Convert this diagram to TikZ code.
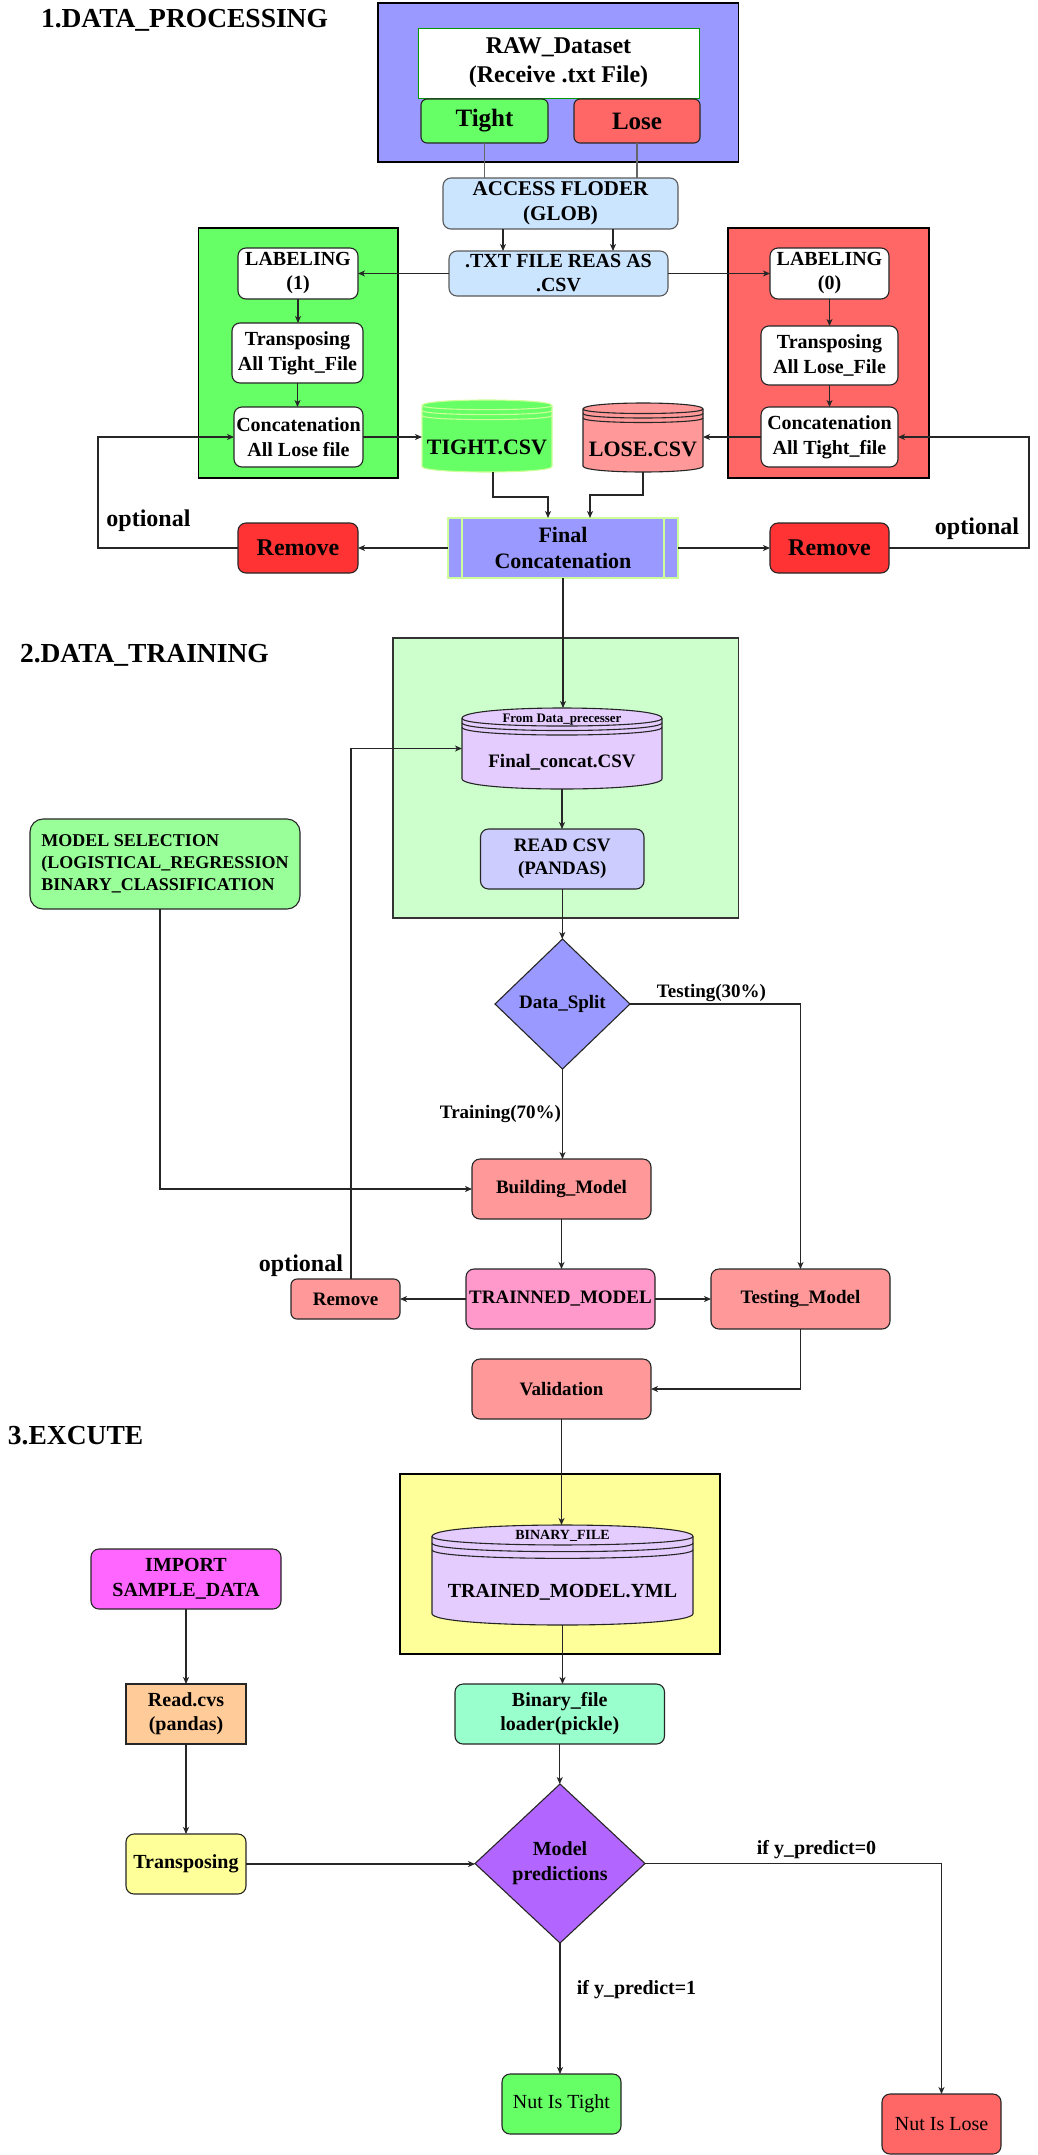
\documentclass[tikz,border=0pt]{standalone}
\usepackage{fontspec}
\setmainfont{Liberation Serif}
\usetikzlibrary{shapes.geometric,arrows.meta}

\definecolor{cBlue}{HTML}{9999FF}
\definecolor{cGreen}{HTML}{66FF66}
\definecolor{cRed}{HTML}{FF6666}
\definecolor{cDkGreen}{HTML}{009900}
\definecolor{cGrayB}{HTML}{5A5A5A}
\definecolor{cLBlue}{HTML}{CCE5FF}
\definecolor{cPaleG}{HTML}{CCFF99}
\definecolor{cPink}{HTML}{FF9999}
\definecolor{cRem}{HTML}{FF3333}
\definecolor{cLGreen}{HTML}{CCFFCC}
\definecolor{cLav}{HTML}{E5CCFF}
\definecolor{cPeri}{HTML}{CCCCFF}
\definecolor{cMint}{HTML}{99FF99}
\definecolor{cHot}{HTML}{FF99CC}
\definecolor{cYellow}{HTML}{FFFF99}
\definecolor{cAqua}{HTML}{99FFCC}
\definecolor{cMag}{HTML}{FF66FF}
\definecolor{cPeach}{HTML}{FFCC99}
\definecolor{cPurp}{HTML}{B266FF}

% box node by corners: options, name, x1, y1, x2, y2, text
\newcommand{\bnode}[7]{%
  \pgfmathsetmacro{\bcx}{(#3+#5)/2}\pgfmathsetmacro{\bcy}{(#4+#6)/2}%
  \pgfmathsetmacro{\bw}{#5-#3}\pgfmathsetmacro{\bh}{#6-#4}%
  \node[#1, minimum width=\bw pt, minimum height=\bh pt] (#2) at (\bcx,\bcy) {#7};}

% cylinder (draw.io datastore): x1, top, x2, bottom, dy, ring spacing, style
\newcommand{\cylshape}[7]{%
  \path[#7] (#1,#2+#5) .. controls (#1,#2-#5/3) and (#3,#2-#5/3) .. (#3,#2+#5)
     -- (#3,#4-#5) .. controls (#3,#4+#5/3) and (#1,#4+#5/3) .. (#1,#4-#5) -- cycle;
  \foreach \k in {0,1,2}{%
    \draw[#7, fill=none] (#1,#2+#5+\k*#6) .. controls (#1,#2+2*#5+\k*#6) and (#3,#2+2*#5+\k*#6) .. (#3,#2+#5+\k*#6);
  }%
}

\begin{document}
\begin{tikzpicture}[x=1pt,y=-1pt,
  every node/.style={inner sep=0pt, outer sep=0pt},
  fs/.style 2 args={font=\bfseries\fontsize{#1}{#2}\selectfont},
  bdr/.style={draw=black!85, line width=1.1pt},
  rb/.style={bdr, rounded corners=8pt, align=center, fs={19}{23}},
  sq/.style={bdr, align=center, fs={19}{23}},
  bgbox/.style={draw=black, line width=1.1pt},
  conn/.style={draw=black!85, line width=1.1pt},
  arr/.style={conn, -{Stealth[length=7pt,width=6pt,inset=2pt]}},
]
\fill[white] (0,0) rectangle (1037,2155);
\useasboundingbox (0,0) rectangle (1037,2155);

% ---------- backgrounds ----------
\bnode{bgbox, fill=cBlue}{bgA}{378}{3}{738.6}{162}{}
\bnode{bgbox, fill=cGreen}{bgG}{198.5}{228}{398}{478}{}
\bnode{bgbox, fill=cRed}{bgR}{728}{228}{929}{478}{}
\bnode{bgbox, fill=cLGreen, draw=black!80}{bgT}{393}{638}{738.6}{918}{}
\bnode{bgbox, fill=cYellow}{bgE}{400}{1474}{720}{1654}{}

% ---------- titles ----------
\node[fs={27.5}{32}, anchor=base west] (t1) at (41,27) {1.DATA\_PROCESSING};
\node[fs={27.5}{32}, anchor=base west] (t2) at (20,662) {2.DATA\_TRAINING};
\node[fs={27.5}{32}, anchor=base west] (t3) at (8,1444) {3.EXCUTE};

% ---------- section 1 ----------
\bnode{sq, draw=cDkGreen, line width=0.9pt, fill=white, fs={24}{29}}{raw}{418}{28}{699}{98}{RAW\_Dataset\\(Receive .txt File)}
\bnode{rb, rounded corners=6pt, fill=cGreen, fs={25}{30}}{tight}{421}{99}{548}{143}{Tight}
\bnode{rb, rounded corners=6pt, fill=cRed, fs={25}{30}}{lose}{574}{99}{700}{143}{Lose}
\bnode{rb, draw=cGrayB, fill=cLBlue, fs={21}{25}}{access}{443}{178}{678}{229}{ACCESS FLODER\\(GLOB)}
\bnode{rb, draw=cGrayB, fill=cLBlue, fs={20}{24}}{txt}{449}{251}{668}{296}{.TXT FILE REAS AS\\.CSV}
\bnode{rb, fill=white, fs={20}{24}}{lab1}{238}{248}{358}{299}{LABELING\\(1)}
\bnode{rb, fill=white, fs={20}{25}}{trans1}{232}{323}{363}{383}{Transposing\\All Tight\_File}
\bnode{rb, fill=white, fs={20}{25}}{conc1}{234}{407}{363}{467}{Concatenation\\All Lose file}
\bnode{rb, fill=white, fs={20}{24}}{lab0}{770}{248}{889}{299}{LABELING\\(0)}
\bnode{rb, fill=white, fs={20}{25}}{trans0}{761}{326}{898}{385}{Transposing\\All Lose\_File}
\bnode{rb, fill=white, fs={20}{25}}{conc0}{761}{407}{898}{467}{Concatenation\\All Tight\_file}

\cylshape{422}{400}{552}{472}{5.5}{5}{draw=cPaleG, line width=1.1pt, fill=cGreen}
\bnode{}{tightcsv}{422}{400}{552}{472}{}
\node[fs={22}{26}] (tightcsvT) at (487,447.5) {TIGHT.CSV};
\cylshape{583}{403}{703}{472}{6}{4.5}{draw=black!85, line width=1.1pt, fill=cPink}
\bnode{}{losecsv}{583}{403}{703}{472}{}
\node[fs={22}{26}] (losecsvT) at (643,449) {LOSE.CSV};

\bnode{sq, draw=cPaleG, fill=cBlue, fs={22}{26}}{final}{448}{518}{678}{578}{Final\\Concatenation}
\draw[draw=cPaleG, line width=1.1pt] ([xshift=14pt]final.north west) -- ([xshift=14pt]final.south west);
\draw[draw=cPaleG, line width=1.1pt] ([xshift=-14pt]final.north east) -- ([xshift=-14pt]final.south east);
\bnode{rb, fill=cRem, fs={24}{28}}{rem1}{238}{523}{358}{573}{Remove}
\bnode{rb, fill=cRem, fs={24}{28}}{rem0}{770}{523}{889}{573}{Remove}

\coordinate (loopL) at (98,0);
\coordinate (loopR) at (1029,0);

\draw[conn, draw=black!60] (tight.south) -- (tight.south |- access.north);
\draw[conn, draw=black!60] (lose.south) -- (lose.south |- access.north);
\draw[arr] ([xshift=-57.5pt]access.south) -- ([xshift=-57.5pt]access.south |- txt.north);
\draw[arr] ([xshift=52.5pt]access.south) -- ([xshift=52.5pt]access.south |- txt.north);
\draw[arr] (txt.west) -- (lab1.east);
\draw[arr] (txt.east) -- (lab0.west);
\draw[arr] (lab1.south) -- (lab1.south |- trans1.north);
\draw[arr] (trans1.south) -- (trans1.south |- conc1.north);
\draw[arr] (lab0.south) -- (lab0.south |- trans0.north);
\draw[arr] (trans0.south) -- (trans0.south |- conc0.north);
\draw[arr] (conc1.east) -- (conc1.east -| tightcsv.west);
\draw[arr] (conc0.west) -- (conc0.west -| losecsv.east);
\draw[arr] ([xshift=6pt]tightcsv.south) -- ++(0,25) -| ([xshift=-15pt]final.north);
\draw[arr] (losecsv.south) -- ++(0,23) -| ([xshift=27pt]final.north);
\draw[arr] (final.west) -- (rem1.east);
\draw[arr] (final.east) -- (rem0.west);
\draw[arr] (rem1.west) -| (loopL |- conc1.west) -- (conc1.west);
\draw[arr] (rem0.east) -| (loopR |- conc0.east) -- (conc0.east);

\node[fs={24}{28}] (opt1) at (148.5,521) {optional};
\node[fs={24}{28}] (opt0) at (977,529) {optional};

% ---------- section 2 ----------
\cylshape{462}{708}{662}{789}{10.3}{4.5}{draw=black!85, line width=1.1pt, fill=cLav}
\bnode{}{fc}{462}{708}{662}{789}{}
\node[fs={13}{15}] (fcTop) at (562,720) {From Data\_precesser};
\node[fs={19}{23}] (fcMain) at (562,762) {Final\_concat.CSV};
\bnode{rb, fill=cPeri, fs={19}{23}}{readcsv}{480.5}{829}{644}{889}{READ CSV\\(PANDAS)}
\node[diamond, bdr, fill=cBlue, fs={19}{23}, minimum width=135pt, minimum height=130pt] (split) at (562.5,1004) {Data\_Split};
\bnode{rb, rounded corners=13pt, fill=cMint, fs={18}{22}, align=left}{modelsel}{30}{819}{300}{909}{MODEL SELECTION\\(LOGISTICAL\_REGRESSION\\BINARY\_CLASSIFICATION}
\bnode{rb, fill=cPink}{building}{472}{1159}{651}{1219}{Building\_Model}
\bnode{rb, fill=cHot}{trainned}{466}{1269}{655}{1329}{TRAINNED\_MODEL}
\bnode{rb, rounded corners=6pt, fill=cPink}{rem2}{291}{1279}{400}{1319}{Remove}
\bnode{rb, fill=cPink}{testmodel}{711}{1269}{890}{1329}{Testing\_Model}
\bnode{rb, fill=cPink}{validation}{472}{1359}{651}{1419}{Validation}

\draw[arr] (final.south) -- (final.south |- fc.north);
\draw[arr] (fc.south) -- (fc.south |- readcsv.north);
\draw[arr] (readcsv.south) -- (readcsv.south |- split.north);
\draw[arr] (split.east) -| (testmodel.north);
\draw[arr] (split.south) -- (split.south |- building.north);
\draw[arr] ([xshift=-5pt]modelsel.south) |- (building.west);
\draw[arr] (building.south) -- (building.south |- trainned.north);
\draw[arr] (trainned.west) -- (rem2.east);
\draw[arr] (trainned.east) -- (testmodel.west);
\draw[arr] ([xshift=5.5pt]rem2.north) |- (fc.west);
\draw[arr] (testmodel.south) |- (validation.east);

\node[fs={19}{23}] (lTest) at (711.5,992.5) {Testing(30\%)};
\node[fs={19}{23}] (lTrain) at (500.5,1113.5) {Training(70\%)};
\node[fs={24}{28}] (opt2) at (301,1266) {optional};

% ---------- section 3 ----------
\cylshape{432}{1525}{693}{1625}{11.4}{6.7}{draw=black!85, line width=1.1pt, fill=cLav}
\bnode{}{trainedcyl}{432}{1525}{693}{1625}{}
\node[fs={14}{16}] (tcTop) at (562.5,1536) {BINARY\_FILE};
\node[fs={20}{24}] (tcMain) at (562.5,1592) {TRAINED\_MODEL.YML};
\bnode{rb, fill=cAqua, fs={20}{24}}{binloader}{455}{1684}{664.5}{1744}{Binary\_file\\loader(pickle)}
\bnode{rb, fill=cMag, fs={20}{25}}{import}{91}{1549}{281}{1609}{IMPORT\\SAMPLE\_DATA}
\bnode{sq, fill=cPeach, fs={20}{24}}{readcvs}{126}{1684}{246}{1744}{Read.cvs\\(pandas)}
\bnode{rb, fill=cYellow, fs={20}{24}}{transp}{126}{1834}{246}{1894}{Transposing}
\node[diamond, bdr, fill=cPurp, fs={20}{25}, align=center, minimum width=170pt, minimum height=159pt] (modelpred) at (560,1863.5) {Model\\predictions};
\bnode{rb, fill=cGreen, font=\fontsize{20}{24}\selectfont}{nuttight}{502}{2074}{621}{2134}{Nut Is Tight}
\bnode{rb, fill=cRed, font=\fontsize{20}{24}\selectfont}{nutlose}{882}{2094}{1001}{2154}{Nut Is Lose}

\draw[arr] (validation.south) -- (validation.south |- trainedcyl.north);
\draw[arr] (trainedcyl.south) -- (trainedcyl.south |- binloader.north);
\draw[arr] (binloader.south) -- (binloader.south |- modelpred.north);
\draw[arr] (import.south) -- (import.south |- readcvs.north);
\draw[arr] (readcvs.south) -- (readcvs.south |- transp.north);
\draw[arr] (transp.east) -- (transp.east -| modelpred.west);
\draw[arr] (modelpred.east) -| (nutlose.north);
\draw[arr] (modelpred.south) -- (modelpred.south |- nuttight.north);

\node[fs={20}{24}] (lp0) at (816.5,1850) {if y\_predict=0};
\node[fs={20}{24}] (lp1) at (636.5,1990) {if y\_predict=1};
\end{tikzpicture}
\end{document}
